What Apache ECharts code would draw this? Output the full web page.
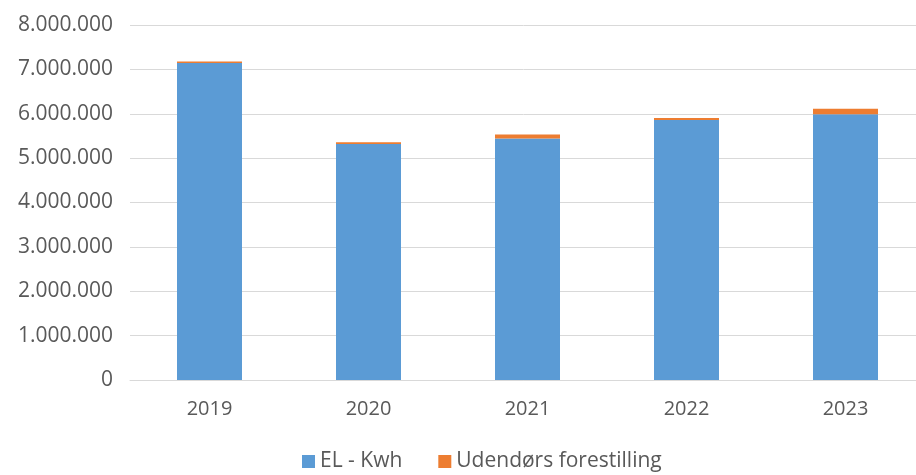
<!DOCTYPE html>
<html>
<head>
<meta charset="utf-8">
<script src="https://cdn.jsdelivr.net/npm/echarts@6/dist/echarts.min.js"></script>
<style>
  html, body { margin: 0; padding: 0; background: #fff; }
  #chart { width: 916px; height: 475px; }
</style>
</head>
<body>
<div id="chart"></div>
<script>
var years = ['2019', '2020', '2021', '2022', '2023'];
var elKwh = [7145000, 5320000, 5440000, 5860000, 5990000];
var udendors = [32000, 38000, 90000, 45000, 120000];
var seriesNames = ['EL - Kwh', 'Udendørs forestilling'];

var myChart = echarts.init(document.getElementById('chart'));

function fmt(v) {
    return String(v).replace(/\B(?=(\d{3})+(?!\d))/g, '.');
}

var option = {
    animation: false,
    color: ['#5b9bd5', '#ed7d31'],
    textStyle: { fontFamily: 'Open Sans' },
    grid: {
        left: 130,
        width: 795,
        top: 25,
        bottom: 95,
        outerBoundsMode: 'none'
    },
    legend: {
        data: seriesNames,
        top: 446,
        left: 297,
        itemWidth: 13,
        itemHeight: 13,
        itemGap: 36,
        icon: 'rect',
        textStyle: { color: '#595959', fontSize: 21, fontFamily: 'Open Sans' }
    },
    xAxis: {
        type: 'category',
        data: years,
        axisTick: { show: false },
        axisLine: { lineStyle: { color: '#d9d9d9', width: 1 } },
        axisLabel: { color: '#595959', fontSize: 20, margin: 19 }
    },
    yAxis: {
        type: 'value',
        min: 0,
        max: 8000000,
        interval: 1000000,
        axisLine: { show: false },
        axisTick: { show: false },
        splitLine: { lineStyle: { color: '#d9d9d9', width: 1 } },
        axisLabel: {
            color: '#595959',
            fontSize: 21,
            margin: 17,
            formatter: function (v) { return fmt(v); }
        }
    },
    series: [{
        name: seriesNames[0],
        type: 'bar',
        stack: 'total',
        barWidth: 65,
        data: elKwh
    }, {
        name: seriesNames[1],
        type: 'bar',
        stack: 'total',
        barWidth: 65,
        data: udendors
    }]
};

myChart.setOption(option);
window.addEventListener("resize", function () {
    myChart.resize();
});
</script>
</body>
</html>
